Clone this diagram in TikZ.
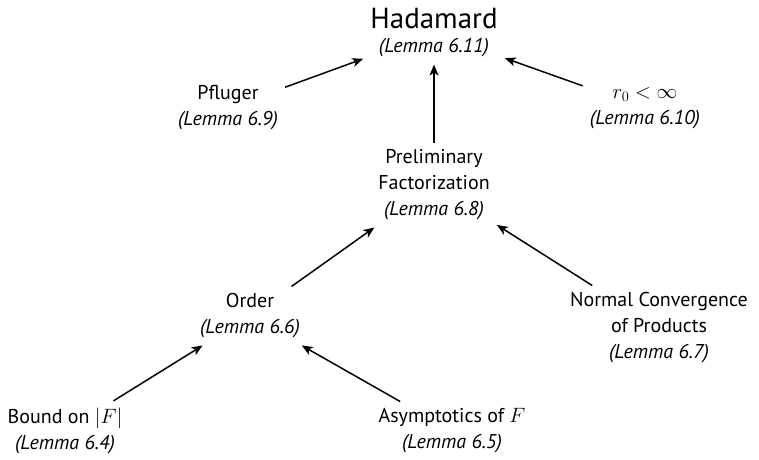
\documentclass[tikz,border=0pt]{standalone}
\usepackage{fontspec}
\setmainfont{PT Sans}
\usetikzlibrary{arrows.meta}
\begin{document}
\begin{tikzpicture}[x=1pt,y=-1pt,
  lem/.style={align=center,font=\fontsize{20}{26}\selectfont,inner sep=7pt},
  arr/.style={-{Stealth[length=11pt,width=9pt,inset=3pt]},line width=1.5pt}]
\useasboundingbox (0,0) rectangle (759,459);
\newcommand{\lm}[1]{\textit{(Lemma #1)}}
\node[lem] (had) at (434,33) {{\fontsize{29}{30}\selectfont Hadamard}\\[-2pt]\lm{6.11}};
\node[lem] (pfl) at (228,108) {Pfluger\\\lm{6.9}};
\node[lem] (rz)  at (645,108) {$r_0<\infty$\\\lm{6.10}};
\node[lem] (pre) at (434,185) {Preliminary\\Factorization\\\lm{6.8}};
\node[lem] (ord) at (250,316) {Order\\\lm{6.6}};
\node[lem] (nor) at (659,328) {Normal Convergence\\of Products\\\lm{6.7}};
\node[lem] (bnd) at (65,431)  {Bound on $|F|$\\\lm{6.4}};
\node[lem] (asy) at (452,431) {Asymptotics of $F$\\\lm{6.5}};
\draw[arr] (pfl) -- (had);
\draw[arr] (rz) -- (had);
\draw[arr] (pre) -- (had);
\draw[arr] (ord) -- (pre);
\draw[arr] (nor) -- (pre);
\draw[arr] (bnd) -- (ord);
\draw[arr] (asy) -- (ord);
\end{tikzpicture}
\end{document}
